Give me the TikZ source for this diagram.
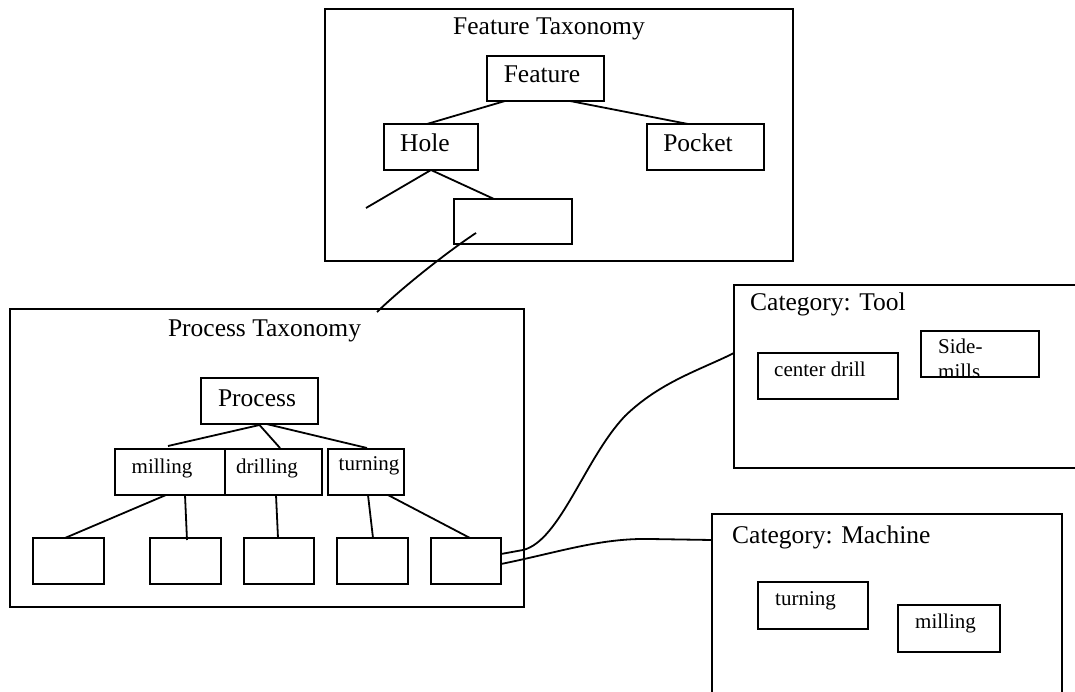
\documentclass[tikz,border=0pt]{standalone}
\usepackage{fontspec}
\setmainfont{Liberation Serif}
\usetikzlibrary{calc}
\tikzset{
  box/.style={draw, line width=1.8pt, inner sep=0pt, outer sep=0pt, anchor=north west},
  link/.style={line width=1.8pt},
  bigtxt/.style={font=\fontsize{25.5}{30}\selectfont, inner sep=0pt},
  smalltxt/.style={font=\fontsize{21}{25}\selectfont, inner sep=0pt},
}
\begin{document}
\begin{tikzpicture}[x=1pt,y=-1pt]
\clip (0,0) rectangle (1075,692);
\fill[white] (0,0) rectangle (1075,692);

% ---------- Feature taxonomy ----------
\node[box, minimum width=468pt, minimum height=252pt] (ftax) at (325,9) {};
\node[bigtxt, anchor=base] (ftaxt) at (549,35) {Feature Taxonomy};
\node[box, minimum width=117pt, minimum height=45pt] (feature) at (487,56) {};
\node[bigtxt, anchor=base] (featuret) at (542,83) {Feature};
\node[box, minimum width=94pt, minimum height=46pt] (hole) at (384,124) {};
\node[bigtxt, anchor=base] (holet) at (425,152) {Hole};
\node[box, minimum width=117pt, minimum height=46pt] (pocket) at (647,124) {};
\node[bigtxt, anchor=base] (pockett) at (698,152) {Pocket};
\node[box, minimum width=118pt, minimum height=45pt] (hchild) at (454,199) {};
\coordinate (hfree) at (366,208);

\draw[link] ([xshift=-40.5pt]feature.south) -- ([xshift=-4pt]hole.north);
\draw[link] ([xshift=24.5pt]feature.south) -- ([xshift=-17.5pt]pocket.north);
\draw[link] (hole.south) -- (hfree);
\draw[link] (hole.south) -- ([xshift=-19pt]hchild.north);

% ---------- Process taxonomy ----------
\node[box, minimum width=514pt, minimum height=298pt] (ptax) at (10,309) {};
\node[bigtxt, anchor=base] (ptaxt) at (264.5,336) {Process Taxonomy};
\node[box, minimum width=117pt, minimum height=46pt] (process) at (201,378) {};
\node[bigtxt, anchor=base] (processt) at (257,406) {Process};
\node[box, minimum width=110pt, minimum height=46pt] (milling) at (115,449) {};
\node[smalltxt, anchor=base] (millingt) at (162,473) {milling};
\node[box, minimum width=97pt, minimum height=46pt] (drilling) at (225,449) {};
\node[smalltxt, anchor=base] (drillingt) at (267,473) {drilling};
\node[box, minimum width=76pt, minimum height=46pt] (turning) at (328,449) {};
\node[smalltxt, anchor=base] (turningt) at (369,470) {turning};

\node[box, minimum width=71pt, minimum height=46pt] (b1) at (33,538) {};
\node[box, minimum width=71pt, minimum height=46pt] (b2) at (150,538) {};
\node[box, minimum width=70pt, minimum height=46pt] (b3) at (244,538) {};
\node[box, minimum width=71pt, minimum height=46pt] (b4) at (337,538) {};
\node[box, minimum width=70pt, minimum height=46pt] (b5) at (431,538) {};

\draw[link] ([yshift=-1pt]process.south) -- ([xshift=-2pt,yshift=3pt]milling.north);
\draw[link] ([yshift=-1pt]process.south) -- ([xshift=6.5pt,yshift=1pt]drilling.north);
\draw[link] ([xshift=7pt]process.south) -- ([xshift=1pt,yshift=1pt]turning.north);
\draw[link] ([xshift=-4pt]milling.south) -- ([xshift=-3.5pt]b1.north);
\draw[link] ([xshift=15pt]milling.south) -- ([xshift=1.5pt,yshift=-2pt]b2.north);
\draw[link] ([xshift=2.5pt]drilling.south) -- ([xshift=-1pt]b3.north);
\draw[link] ([xshift=2pt]turning.south) -- ([xshift=0.5pt]b4.north);
\draw[link] ([xshift=22pt]turning.south) -- ([xshift=4pt]b5.north);

% link from feature child to process taxonomy
\draw[link] ([xshift=-37pt,yshift=-11.5pt]hchild.center) .. controls (450,250) and (405,285) .. ([xshift=110pt,yshift=-3pt]ptax.north);

% ---------- Category: Tool ----------
\node[box, minimum width=360pt, minimum height=183pt] (tool) at (734,285) {};
\node[bigtxt, anchor=base west] (toolt) at (750,311) {Category: Tool};
\node[box, minimum width=140pt, minimum height=46pt] (cdrill) at (758,353) {};
\node[smalltxt, anchor=base west] (cdrillt) at (774,376) {center drill};
\begin{scope}
  \clip (921,331) rectangle (1039,377);
  \node[smalltxt, anchor=base west] (sidet) at (938,353) {Side-};
  \node[smalltxt, anchor=base west] (millst) at (938,378.5) {mills};
\end{scope}
\node[box, minimum width=118pt, minimum height=46pt] (side) at (921,331) {};

% ---------- Category: Machine ----------
\node[box, minimum width=350pt, minimum height=190pt] (machine) at (712,514) {};
\node[bigtxt, anchor=base west] (machinet) at (732,543) {Category: Machine};
\node[box, minimum width=110pt, minimum height=47pt] (mturn) at (758,582) {};
\node[smalltxt, anchor=base west] (mturnt) at (775,605) {turning};
\node[box, minimum width=102pt, minimum height=47pt] (mmill) at (898,605) {};
\node[smalltxt, anchor=base west] (mmillt) at (915,628) {milling};

% ---------- connectors to categories ----------
\draw[link] ([yshift=7pt]b5.east) -- (523,550)
  .. controls (560,541) and (585,458) .. (625,416)
  .. controls (660,382) and (700,370) .. ([yshift=-68pt]tool.north west);
\draw[link] ([yshift=-3pt]b5.east) .. controls (560,552) and (600,538) .. (650,539)
  -- ([yshift=-26pt]machine.north west);
\end{tikzpicture}
\end{document}
